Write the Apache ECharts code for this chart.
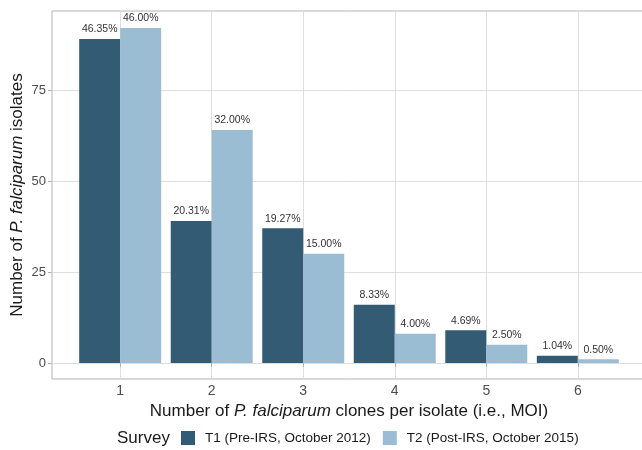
<!DOCTYPE html>
<html>
<head>
<meta charset="utf-8">
<script src="https://cdn.jsdelivr.net/npm/echarts@6/dist/echarts.min.js"></script>
<style>html,body{margin:0;padding:0;background:#fff}#c{width:642px;height:450px}</style>
</head>
<body>
<div id="c"></div>
<script>
var categories = [1, 2, 3, 4, 5, 6];
var t1Values = [89, 39, 37, 16, 9, 2];
var t2Values = [92, 64, 30, 8, 5, 1];
var t1Pct = ['46.35%', '20.31%', '19.27%', '8.33%', '4.69%', '1.04%'];
var t2Pct = ['46.00%', '32.00%', '15.00%', '4.00%', '2.50%', '0.50%'];
var yTicks = [0, 25, 50, 75];
var seriesNames = ['T1 (Pre-IRS, October 2012)', 'T2 (Post-IRS, October 2015)'];

var FONT = 'Liberation Sans, Arial, sans-serif';
var chart = echarts.init(document.getElementById('c'), null, {renderer: 'canvas'});

function pairs(vals) {
  return categories.map(function (c, i) { return [c, vals[i]]; });
}
function labelOf(pcts) {
  return {
    show: true, position: 'top', distance: 4,
    fontFamily: FONT, fontSize: 10.5, color: '#333333',
    formatter: function (p) { return pcts[p.dataIndex]; }
  };
}

chart.setOption({
  animation: false,
  backgroundColor: '#ffffff',
  textStyle: {fontFamily: FONT},
  grid: {left: 52, top: 11, width: 594, height: 368, show: true, borderColor: '#b3b3b3', borderWidth: 1, containLabel: false, outerBoundsMode: 'none'},
  xAxis: {
    type: 'value', min: 0.255, max: 6.745,
    axisLine: {show: false},
    axisTick: {show: true, customValues: categories, length: 4, lineStyle: {color: '#b3b3b3'}},
    axisLabel: {customValues: categories, fontFamily: FONT, fontSize: 14, color: '#4d4d4d', margin: 5},
    splitLine: {show: true, lineStyle: {color: '#dedede', width: 1}},
    name: '{n|Number of }{i|P. falciparum}{n| clones per isolate (i.e., MOI)}',
    nameLocation: 'middle', nameGap: 21,
    nameTextStyle: {rich: {
      n: {fontFamily: FONT, fontSize: 17, color: '#1a1a1a'},
      i: {fontFamily: FONT, fontSize: 17, color: '#1a1a1a', fontStyle: 'italic'}
    }}
  },
  yAxis: {
    type: 'value', min: -4.4, max: 96.7,
    axisLine: {show: false},
    axisTick: {show: true, customValues: yTicks, length: 4, lineStyle: {color: '#b3b3b3'}},
    axisLabel: {customValues: yTicks, fontFamily: FONT, fontSize: 13, color: '#4d4d4d', margin: 6},
    splitLine: {show: true, lineStyle: {color: '#dedede', width: 1}},
    name: '{n|Number of }{i|P. falciparum}{n| isolates}',
    nameLocation: 'middle', nameGap: 26, nameRotate: 90, nameMoveOverlap: false,
    nameTextStyle: {rich: {
      n: {fontFamily: FONT, fontSize: 17, color: '#1a1a1a'},
      i: {fontFamily: FONT, fontSize: 17, color: '#1a1a1a', fontStyle: 'italic'}
    }}
  },
  legend: {
    left: 181, top: 431, padding: 0, itemWidth: 14, itemHeight: 14, itemGap: 12,
    icon: 'rect',
    textStyle: {fontFamily: FONT, fontSize: 13.5, color: '#1a1a1a', padding: [0, 0, 0, 5]},
    data: seriesNames
  },
  graphic: [{
    type: 'text', left: 117, top: 430,
    style: {text: 'Survey', fontFamily: FONT, fontSize: 17, fill: '#1a1a1a'}
  }],
  series: [{
    name: seriesNames[0], type: 'bar', data: pairs(t1Values),
    barWidth: 41, barGap: '0%',
    itemStyle: {color: '#345b74'},
    label: labelOf(t1Pct)
  }, {
    name: seriesNames[1], type: 'bar', data: pairs(t2Values),
    barWidth: 41, barGap: '0%',
    itemStyle: {color: '#9bbdd3'},
    label: labelOf(t2Pct)
  }]
});
</script>
</body>
</html>
